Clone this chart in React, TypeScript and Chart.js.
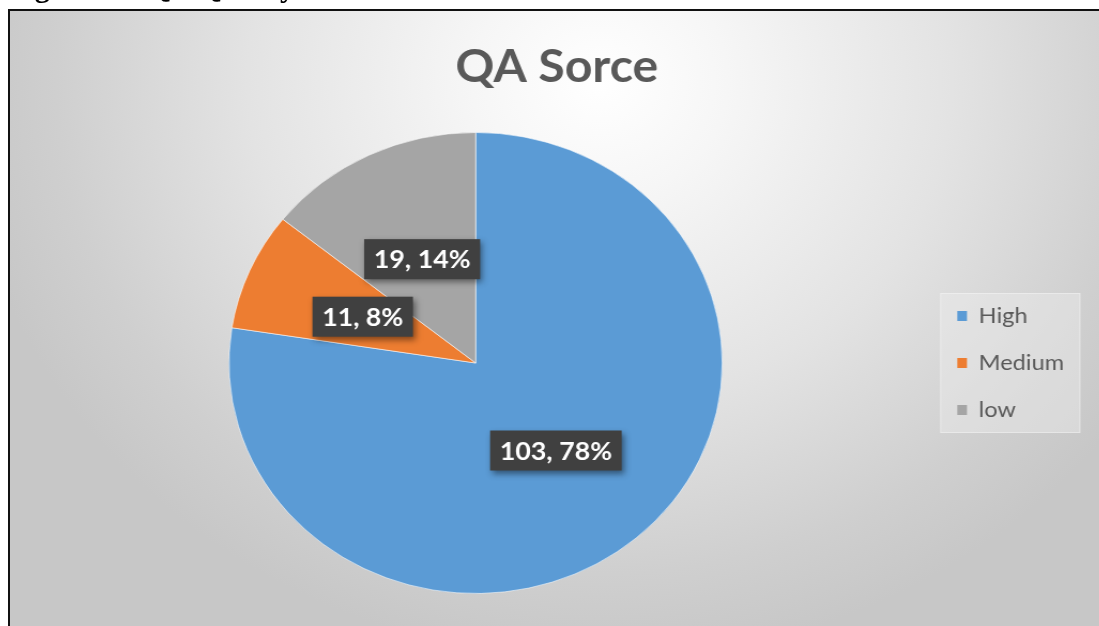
import React, { useEffect, useRef } from "react";
import { Chart, registerables } from "chart.js";

Chart.register(...registerables);

const captionText = "Figure 10: QA Quality";
const titleText = "QA Sorce";
const categories = ["High", "Medium", "low"];
const counts = [103, 11, 19];
const percentLabels = ["78%", "8%", "14%"];
const sliceColors = ["#5B9BD5", "#ED7D31", "#A5A5A5"];

const X_STRETCH = 1.07;

const titlePlugin = {
  id: "customTitle",
  afterDraw(chart: any) {
    const ctx = chart.ctx;
    ctx.save();
    ctx.font = "bold 45px Lato";
    ctx.fillStyle = "#595959";
    ctx.textAlign = "center";
    ctx.textBaseline = "alphabetic";
    ctx.fillText(titleText, 511, 71);
    ctx.restore();
  },
};

const legendBgPlugin = {
  id: "legendBg",
  beforeDraw(chart: any) {
    const lg = chart.legend;
    if (!lg || !lg.legendHitBoxes || !lg.legendHitBoxes.length) return;
    const hb = lg.legendHitBoxes;
    const first = hb[0];
    const last = hb[hb.length - 1];
    const cy = (first.top + last.top + last.height) / 2;
    const ctx = chart.ctx;
    ctx.save();
    ctx.fillStyle = "rgba(240,240,240,0.4)";
    ctx.strokeStyle = "rgba(255,255,255,0.35)";
    ctx.lineWidth = 1;
    const left = lg.left + 9;
    ctx.fillRect(left, cy - 70, 131, 140);
    ctx.strokeRect(left + 0.5, cy - 69.5, 130, 139);
    ctx.restore();
  },
};

const sliceLabelPlugin = {
  id: "sliceLabels",
  afterDatasetsDraw(chart: any) {
    const meta = chart.getDatasetMeta(0);
    const ctx = chart.ctx;
    ctx.save();
    ctx.font = "bold 25px Lato";
    meta.data.forEach((arc: any, i: number) => {
      const p = arc.getProps(["x", "y", "startAngle", "endAngle", "outerRadius"], true);
      const mid = (p.startAngle + p.endAngle) / 2;
      const r = p.outerRadius * 0.5;
      const cx = p.x + Math.cos(mid) * r;
      const cy = p.y + Math.sin(mid) * r;
      const text = `${counts[i]}, ${percentLabels[i]}`;
      const w = ctx.measureText(text).width + 18;
      const h = 40;
      ctx.shadowColor = "rgba(0,0,0,0.45)";
      ctx.shadowBlur = 6;
      ctx.shadowOffsetX = 2;
      ctx.shadowOffsetY = 3;
      ctx.fillStyle = "#404040";
      ctx.fillRect(cx - w / 2, cy - h / 2, w, h);
      ctx.shadowColor = "transparent";
      ctx.shadowBlur = 0;
      ctx.shadowOffsetX = 0;
      ctx.shadowOffsetY = 0;
      ctx.fillStyle = "#ffffff";
      ctx.textAlign = "center";
      ctx.textBaseline = "middle";
      ctx.fillText(text, cx, cy + 1);
    });
    ctx.restore();
  },
};

function PieChart() {
  const canvasRef = useRef<HTMLCanvasElement | null>(null);
  useEffect(() => {
    const canvas = canvasRef.current;
    if (!canvas) return;
    const chart = new Chart(canvas, {
      type: "pie",
      data: {
        labels: categories,
        datasets: [
          {
            data: counts,
            backgroundColor: sliceColors,
            borderColor: "rgba(255,255,255,0.55)",
            borderWidth: 1,
          },
        ],
      },
      options: {
        responsive: true,
        maintainAspectRatio: false,
        animation: false,
        events: [],
        layout: { padding: { left: 10, right: 23, top: 121, bottom: 32 } },
        plugins: {
          title: { display: false },
          tooltip: { enabled: false },
          legend: {
            display: true,
            position: "right",
            align: "center",
            labels: {
              boxWidth: 9,
              boxHeight: 10,
              padding: 25,
              color: "#595959",
              font: { family: "Lato", size: 22 },
              generateLabels: (ch: any) => {
                const items = (Chart as any).overrides.pie.plugins.legend.labels.generateLabels(ch);
                items.forEach((it: any) => {
                  it.lineWidth = 0;
                  it.strokeStyle = it.fillStyle;
                });
                return items;
              },
            },
          },
        },
      },
      plugins: [legendBgPlugin, sliceLabelPlugin, titlePlugin],
    } as any);
    return () => chart.destroy();
  }, []);
  return (
    <div
      style={{
        position: "absolute",
        left: 0,
        top: 0,
        width: 1018,
        height: 615,
        transform: `scaleX(${X_STRETCH})`,
        transformOrigin: "0 0",
      }}
    >
      <canvas ref={canvasRef} />
    </div>
  );
}

export default function App() {
  return (
    <div>
      <div
        style={{
          position: "fixed",
          left: 8,
          top: -28,
          height: 37,
          font: "bold 30px 'Liberation Serif', serif",
          lineHeight: "30px",
          whiteSpace: "nowrap",
          color: "#000",
        }}
      >
        {captionText}
      </div>
      <div
        style={{
          position: "fixed",
          left: 8,
          top: 9,
          width: 1091,
          height: 617,
          boxSizing: "border-box",
          borderTop: "2px solid #111",
          borderLeft: "2px solid #111",
          overflow: "hidden",
          background:
            "radial-gradient(ellipse 640px 580px at 590px 70px, #ffffff 0%, #f6f6f6 20%, #e3e3e3 55%, #cfcfcf 85%, #c7c7c7 100%)",
        }}
      >
        <PieChart />
      </div>
    </div>
  );
}
